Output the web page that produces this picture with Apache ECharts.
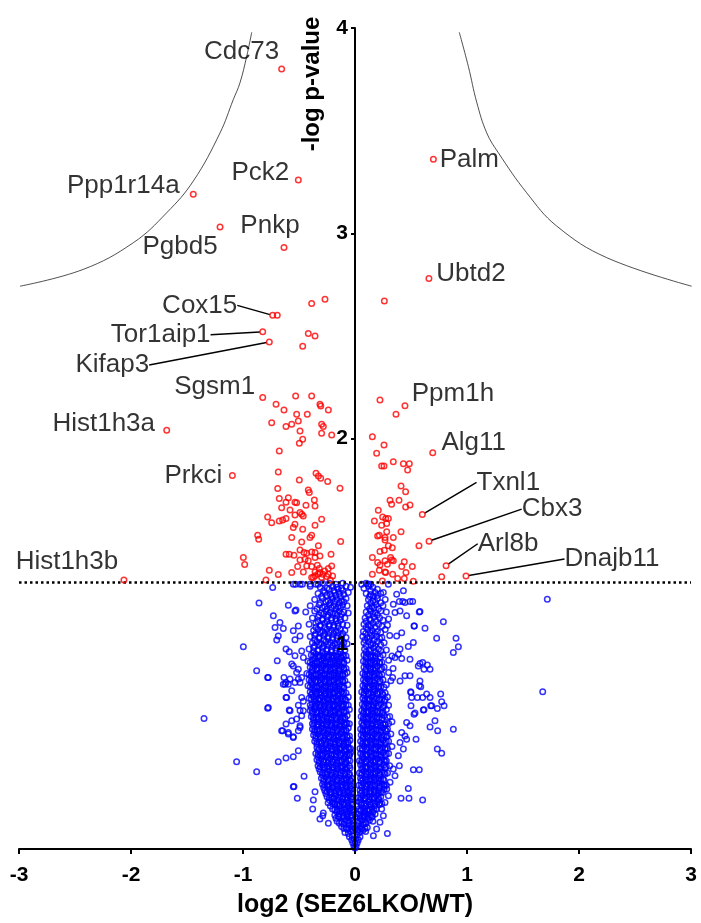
<!DOCTYPE html>
<html><head><meta charset="utf-8">
<script src="https://cdn.jsdelivr.net/npm/echarts@6/dist/echarts.min.js"></script>
<style>html,body{margin:0;padding:0;background:#fff}#c{width:701px;height:923px}</style>
</head><body><div id="c"></div><script>
// ---------- data ----------
const xTickValues = [-3,-2,-1,0,1,2,3];
const yTickValues = [1,2,3,4];
const xTitle = 'log2 (SEZ6LKO/WT)';
const yTitle = '-log p-value';
const threshold = 1.3;

const leftCurve = [[-0.922,3.979],[-0.967,3.862],[-1.027,3.733],[-1.087,3.651],[-1.205,3.489],[-1.444,3.254],[-1.681,3.100],[-1.979,2.954],[-2.426,2.824],[-2.991,2.742]];
const rightCurve = [[0.931,3.979],[1.012,3.813],[1.087,3.638],[1.176,3.489],[1.280,3.392],[1.533,3.197],[1.801,3.035],[2.248,2.881],[3.006,2.742]];

// labelled proteins without leader line
const labeledPlain = [
 [-0.655,3.80,'Cdc73'],[-0.506,3.26,'Pck2'],[-1.444,3.19,'Ppp1r14a'],[-1.205,3.03,'Pgbd5'],
 [-0.634,2.93,'Pnkp'],[0.70,3.36,'Palm'],[0.66,2.78,'Ubtd2'],[-0.824,2.20,'Sgsm1'],
 [-1.681,2.04,'Hist1h3a'],[-1.095,1.82,'Prkci'],[-2.063,1.31,'Hist1h3b'],[0.446,2.16,'Ppm1h'],[0.694,1.93,'Alg11']
];
// labelled proteins with leader line
const labeledLeader = [
 [-0.735,2.60,'Cox15'],[-0.824,2.52,'Tor1aip1'],[-0.765,2.47,'Kifap3'],
 [0.601,1.63,'Txnl1'],[0.661,1.50,'Cbx3'],[0.813,1.38,'Arl8b'],[0.991,1.33,'Dnajb11']
];

const redPoints = [
 [-0.694,2.60],[-0.387,2.658],[-0.268,2.678],[-0.417,2.511],[-0.357,2.499],[-0.467,2.450],
 [-0.53,2.207],[-0.387,2.207],[-0.705,2.167],[-0.634,2.139],[-0.313,2.167],[-0.306,2.158],
 [-0.238,2.139],[-0.521,2.118],[-0.426,2.118],[-0.744,2.077],[-0.616,2.058],[-0.565,2.069],[-0.506,2.085],
 [-0.298,2.069],[-0.283,2.058],[-0.491,2.037],[-0.298,2.025],[-0.208,2.017],[-0.467,1.996],[-0.497,1.977],
 [-0.676,1.939],[-0.685,1.837],[-0.348,1.831],[-0.327,1.817],[-0.306,1.806],[-0.497,1.798],[-0.244,1.790],
 [-0.134,1.758],[-0.690,1.756],[-0.417,1.749],[-0.408,1.737],[-0.676,1.708],[-0.595,1.711],[-0.616,1.690],
 [-0.536,1.690],[-0.521,1.687],[-0.438,1.675],[-0.363,1.700],[-0.357,1.671],[-0.655,1.663],[-0.580,1.652],
 [-0.491,1.639],[-0.476,1.631],[-0.462,1.623],[-0.536,1.627],[-0.780,1.618],[-0.744,1.590],[-0.676,1.598],
 [-0.646,1.603],[-0.616,1.610],[-0.536,1.582],[-0.551,1.566],[-0.467,1.558],[-0.357,1.577],[-0.298,1.607],
 [-0.869,1.529],[-0.860,1.509],[-0.565,1.518],[-0.387,1.529],[-0.402,1.518],[-0.476,1.496],[-0.128,1.498],
 [-0.491,1.457],[-0.455,1.444],[-0.327,1.477],[-0.616,1.436],[-0.587,1.436],[-0.545,1.431],[-0.431,1.441],
 [-0.387,1.447],[-0.357,1.444],[-0.313,1.428],[-0.214,1.436],[-0.997,1.420],[-0.985,1.386],[-0.491,1.408],
 [-0.446,1.412],[-0.417,1.404],[-0.357,1.420],[-0.512,1.376],[-0.431,1.379],[-0.387,1.376],[-0.336,1.383],
 [-0.319,1.367],[-0.238,1.367],[-0.208,1.379],[-0.765,1.358],[-0.685,1.337],[-0.565,1.347],[-0.461,1.350],
 [-0.357,1.350],[-0.313,1.347],[-0.288,1.339],[-0.387,1.323],[-0.357,1.331],[-0.298,1.323],[-0.253,1.328],
 [-0.238,1.339],[-0.795,1.31],[-0.372,1.323],[-0.33,1.34],[-0.27,1.355],[-0.22,1.31],[-0.20,1.33],
 [0.262,2.670],[0.223,2.188],[0.366,2.118],[0.155,2.009],[0.259,1.968],[0.193,1.928],[0.238,1.866],
 [0.259,1.866],[0.342,1.887],[0.432,1.877],[0.485,1.877],[0.470,1.847],[0.411,1.769],[0.452,1.740],
 [0.313,1.699],[0.327,1.680],[0.393,1.699],[0.491,1.676],[0.452,1.666],[0.208,1.650],[0.173,1.598],
 [0.247,1.618],[0.274,1.610],[0.298,1.610],[0.238,1.577],[0.283,1.586],[0.283,1.546],[0.411,1.546],
 [0.202,1.525],[0.217,1.529],[0.268,1.518],[0.342,1.518],[0.571,1.477],[0.268,1.506],[0.298,1.477],
 [0.333,1.468],[0.223,1.449],[0.262,1.456],[0.155,1.420],[0.318,1.420],[0.327,1.408],[0.202,1.396],
 [0.223,1.384],[0.268,1.404],[0.289,1.387],[0.342,1.404],[0.440,1.399],[0.417,1.376],[0.512,1.376],
 [0.217,1.358],[0.268,1.350],[0.274,1.347],[0.455,1.347],[0.155,1.339],[0.336,1.339],[0.774,1.327],
 [0.381,1.318],[0.440,1.318],[0.244,1.306],[0.521,1.305]
];

// dense core of non-significant proteins (first layer)
const blueCoreA = [
 [0,.005],[-.01,.015],[.01,.015],[-.02,.03],[.02,.03],[0,.03],[-.03,.045],[.03,.045],[-.01,.05],[.01,.05],[-.05,.06],[.045,.06],[-.025,.065],[.02,.07],
 [-.09,.08],[-.06,.075],[-.035,.085],[-.015,.09],[.015,.085],[.04,.08],[.07,.09],[.095,.085],
 [-.12,.11],[-.08,.105],[-.05,.115],[-.02,.11],[.02,.115],[.05,.11],[.08,.12],[.11,.105],
 [-.16,.135],[-.12,.13],[-.085,.14],[-.05,.135],[-.02,.14],[.025,.135],[.06,.14],[.095,.13],[.13,.14],[.16,.135],
 [-.18,.165],[-.14,.17],[-.1,.16],[-.065,.17],[-.03,.165],[.03,.17],[.065,.16],[.1,.17],[.14,.165],[.18,.17],
 [-.2,.195],[-.16,.19],[-.12,.2],[-.085,.195],[-.045,.2],[-.02,.19],[.035,.195],[.07,.2],[.11,.19],[.15,.2],[.19,.195],
 [-.24,.225],[-.2,.23],[-.16,.22],[-.12,.23],[-.08,.225],[-.04,.22],[.04,.23],[.08,.22],[.12,.23],[.16,.225],[.2,.23],[.24,.22],
 [-.25,.255],[-.21,.25],[-.17,.26],[-.13,.255],[-.09,.25],[-.05,.26],[-.02,.255],[.03,.25],[.07,.26],[.11,.255],[.15,.25],[.19,.26],[.23,.255],
 [-.27,.285],[-.23,.29],[-.19,.28],[-.15,.29],[-.11,.285],[-.07,.28],[-.035,.29],[.045,.285],[.09,.29],[.13,.28],[.17,.29],[.21,.285],[.26,.29],
 [-.29,.315],[-.25,.31],[-.21,.32],[-.17,.315],[-.13,.31],[-.09,.32],[-.05,.315],[.035,.31],[.075,.32],[.115,.315],[.155,.31],[.2,.32],[.24,.315],[.28,.31],
 [-.3,.345],[-.26,.35],[-.22,.34],[-.18,.35],[-.14,.345],[-.1,.34],[-.06,.35],[-.03,.345],[.05,.345],[.09,.35],[.13,.34],[.17,.35],[.21,.345],[.25,.34],
 [-.31,.375],[-.27,.37],[-.23,.38],[-.19,.375],[-.15,.37],[-.11,.38],[-.07,.375],[.04,.37],[.08,.38],[.12,.375],[.16,.37],[.2,.38],[.24,.375],[.29,.37],
 [-.33,.405],[-.29,.41],[-.25,.4],[-.21,.41],[-.17,.405],[-.13,.4],[-.09,.41],[-.05,.405],[.05,.41],[.09,.4],[.13,.41],[.17,.405],[.21,.4],[.26,.41],[.31,.405],
 [-.34,.435],[-.3,.44],[-.26,.43],[-.22,.44],[-.18,.435],[-.14,.43],[-.1,.44],[-.06,.435],[.04,.43],[.08,.44],[.12,.435],[.16,.43],[.2,.44],[.24,.435],[.28,.43],
 [-.35,.465],[-.31,.46],[-.27,.47],[-.23,.465],[-.19,.46],[-.15,.47],[-.11,.465],[-.07,.46],[-.04,.47],[.05,.465],[.09,.46],[.13,.47],[.17,.465],[.21,.46],[.25,.47],[.3,.465],
 [-.34,.495],[-.3,.5],[-.26,.49],[-.22,.5],[-.18,.495],[-.14,.49],[-.1,.5],[-.06,.495],[.045,.49],[.085,.5],[.125,.495],[.165,.49],[.205,.5],[.245,.495],[.29,.49],[.33,.5],
 [-.36,.525],[-.32,.52],[-.28,.53],[-.24,.525],[-.2,.52],[-.16,.53],[-.12,.525],[-.08,.52],[-.045,.53],[.05,.525],[.09,.52],[.13,.53],[.17,.525],[.21,.52],[.25,.53],[.3,.525],
 [-.37,.555],[-.33,.56],[-.29,.55],[-.25,.56],[-.21,.555],[-.17,.55],[-.13,.56],[-.09,.555],[-.05,.55],[.055,.555],[.095,.56],[.135,.55],[.175,.56],[.215,.555],[.26,.55],[.32,.56],
 [-.38,.585],[-.34,.58],[-.3,.59],[-.26,.585],[-.22,.58],[-.18,.59],[-.14,.585],[-.1,.58],[-.06,.59],[.05,.585],[.09,.58],[.13,.59],[.17,.585],[.21,.58],[.25,.59],[.29,.585],
 [-.36,.615],[-.32,.62],[-.28,.61],[-.24,.62],[-.2,.615],[-.16,.61],[-.12,.62],[-.08,.615],[-.05,.61],[.06,.615],[.1,.62],[.14,.61],[.18,.62],[.22,.615],[.27,.61],[.33,.62],
 [-.39,.645],[-.35,.64],[-.31,.65],[-.27,.645],[-.23,.64],[-.19,.65],[-.15,.645],[-.11,.64],[-.07,.65],[.055,.645],[.095,.64],[.135,.65],[.175,.645],[.215,.64],[.26,.65],[.31,.645],
 [-.4,.675],[-.36,.68],[-.32,.67],[-.28,.68],[-.24,.675],[-.2,.67],[-.16,.68],[-.12,.675],[-.08,.67],[-.05,.68],[.06,.675],[.1,.67],[.14,.68],[.18,.675],[.22,.67],[.28,.68],
 [-.38,.705],[-.34,.71],[-.3,.7],[-.26,.71],[-.22,.705],[-.18,.7],[-.14,.71],[-.1,.705],[-.06,.7],[.065,.705],[.105,.71],[.145,.7],[.185,.71],[.23,.705],[.3,.7],
 [-.41,.735],[-.37,.74],[-.33,.73],[-.29,.74],[-.25,.735],[-.21,.73],[-.17,.74],[-.13,.735],[-.09,.73],[-.06,.74],[.07,.735],[.11,.73],[.15,.74],[.19,.735],[.24,.73],[.29,.74],
 [-.4,.765],[-.36,.77],[-.32,.76],[-.28,.77],[-.24,.765],[-.2,.76],[-.16,.77],[-.12,.765],[-.08,.76],[.06,.765],[.1,.77],[.14,.76],[.18,.77],[.22,.765],[.27,.76],
 [-.42,.795],[-.38,.8],[-.34,.79],[-.3,.8],[-.26,.795],[-.22,.79],[-.18,.8],[-.14,.795],[-.1,.79],[-.065,.8],[.07,.795],[.11,.79],[.15,.8],[.19,.795],[.23,.79],[.28,.8],
 [-.41,.825],[-.37,.83],[-.33,.82],[-.29,.83],[-.25,.825],[-.21,.82],[-.17,.83],[-.13,.825],[-.09,.82],[.075,.825],[.115,.83],[.155,.82],[.2,.83],[.25,.825],[.32,.82],
 [-.43,.855],[-.39,.86],[-.35,.85],[-.31,.86],[-.27,.855],[-.23,.85],[-.19,.86],[-.15,.855],[-.11,.85],[-.07,.86],[.07,.855],[.11,.85],[.15,.86],[.19,.855],[.24,.85],[.3,.86],
 [-.4,.885],[-.36,.89],[-.32,.88],[-.28,.89],[-.24,.885],[-.2,.88],[-.16,.89],[-.12,.885],[-.08,.88],[.08,.885],[.12,.89],[.16,.88],[.2,.89],[.26,.885],[.34,.88],
 [-.42,.915],[-.38,.92],[-.34,.91],[-.3,.92],[-.26,.915],[-.22,.91],[-.18,.92],[-.14,.915],[-.1,.91],[-.07,.92],[.075,.915],[.115,.91],[.155,.92],[.195,.915],[.24,.91],[.3,.92],
 [-.39,.945],[-.35,.95],[-.31,.94],[-.27,.95],[-.23,.945],[-.19,.94],[-.15,.95],[-.11,.945],[-.08,.94],[.08,.945],[.12,.95],[.16,.94],[.2,.95],[.25,.945],[.33,.94],
 [-.41,.975],[-.37,.98],[-.33,.97],[-.29,.98],[-.25,.975],[-.21,.97],[-.17,.98],[-.13,.975],[-.09,.97],[.085,.975],[.125,.97],[.165,.98],[.21,.975],[.28,.97],
 [-.38,1.005],[-.34,1.01],[-.3,1],[-.26,1.01],[-.22,1.005],[-.18,1],[-.14,1.01],[-.1,1.005],[-.07,1],[.08,1.005],[.12,1.01],[.16,1],[.2,1.01],[.26,1.005],
 [-.4,1.035],[-.36,1.04],[-.32,1.03],[-.28,1.04],[-.24,1.035],[-.2,1.03],[-.16,1.04],[-.12,1.035],[-.08,1.03],[.07,1.035],[.11,1.03],[.15,1.04],[.19,1.035],[.24,1.03],[.31,1.04],
 [-.37,1.065],[-.33,1.07],[-.29,1.06],[-.25,1.07],[-.21,1.065],[-.17,1.06],[-.13,1.07],[-.09,1.065],[.075,1.06],[.115,1.07],[.155,1.065],[.2,1.06],[.27,1.07],
 [-.41,1.095],[-.35,1.1],[-.31,1.09],[-.27,1.1],[-.23,1.095],[-.19,1.09],[-.15,1.1],[-.11,1.095],[-.07,1.09],[.08,1.095],[.12,1.09],[.16,1.1],[.21,1.095],[.29,1.09],
 [-.38,1.125],[-.33,1.13],[-.29,1.12],[-.25,1.13],[-.21,1.125],[-.17,1.12],[-.13,1.13],[-.09,1.125],[.09,1.125],[.13,1.12],[.17,1.13],[.22,1.125],[.3,1.12],
 [-.44,1.155],[-.36,1.16],[-.3,1.15],[-.26,1.16],[-.22,1.155],[-.18,1.15],[-.14,1.16],[-.1,1.155],[-.06,1.15],[.1,1.155],[.14,1.16],[.18,1.15],[.23,1.16],[.28,1.155],
 [-.4,1.185],[-.32,1.19],[-.27,1.18],[-.23,1.19],[-.19,1.185],[-.15,1.18],[-.11,1.19],[-.07,1.185],[.11,1.185],[.15,1.18],[.19,1.19],[.25,1.185],
 [-.36,1.215],[-.29,1.22],[-.24,1.21],[-.2,1.22],[-.16,1.215],[-.12,1.21],[-.08,1.22],[.12,1.215],[.16,1.21],[.2,1.22],[.27,1.215],
 [-.33,1.245],[-.27,1.25],[-.22,1.24],[-.18,1.25],[-.14,1.245],[-.1,1.24],[-.06,1.25],[.1,1.245],[.14,1.24],[.18,1.25],[.23,1.245],
 [-.4,1.28],[-.31,1.275],[-.25,1.27],[-.2,1.28],[-.16,1.275],[-.12,1.27],[-.08,1.28],[-.04,1.275],[.08,1.27],[.12,1.28],[.16,1.275],
 [-.53,1.29],[-.49,1.29],[-.47,1.29],[-.35,1.29],[-.33,1.29],[-.29,1.295],[-.23,1.295],[-.17,1.29],[-.11,1.295],[.06,1.29],[.1,1.295],[.14,1.29]
];

// dense core (second, in-between layer)
const blueCoreB = [
 [-.1,.1],[-.065,.095],[-.03,.1],[0,.1],[.03,.095],[.06,.1],[.09,.1],
 [-.17,.15],[-.14,.155],[-.105,.15],[-.07,.155],[-.035,.15],[.01,.155],[.045,.15],[.08,.155],[.115,.15],[.15,.155],
 [-.16,.18],[-.12,.185],[-.08,.18],[-.045,.185],[-.01,.18],[.05,.185],[.085,.18],[.12,.185],[.16,.18],
 [-.22,.21],[-.18,.215],[-.14,.21],[-.1,.215],[-.06,.21],[-.025,.215],[.02,.21],[.055,.215],[.095,.21],[.135,.215],[.175,.21],[.215,.215],
 [-.23,.24],[-.19,.245],[-.15,.24],[-.11,.245],[-.07,.24],[-.035,.245],[.05,.24],[.09,.245],[.13,.24],[.17,.245],[.21,.24],
 [-.26,.27],[-.22,.275],[-.18,.27],[-.14,.275],[-.1,.27],[-.06,.275],[-.03,.27],[.05,.27],[.09,.275],[.13,.27],[.17,.275],[.21,.27],[.245,.275],
 [-.28,.3],[-.24,.305],[-.2,.3],[-.16,.305],[-.12,.3],[-.08,.305],[-.045,.3],[.06,.3],[.1,.305],[.14,.3],[.18,.305],[.22,.3],[.26,.305],
 [-.28,.33],[-.24,.335],[-.2,.33],[-.16,.335],[-.12,.33],[-.08,.335],[-.04,.33],[.055,.33],[.095,.335],[.135,.33],[.175,.335],[.22,.33],[.26,.335],
 [-.29,.36],[-.25,.365],[-.21,.36],[-.17,.365],[-.13,.36],[-.09,.365],[-.05,.36],[.06,.36],[.1,.365],[.14,.36],[.18,.365],[.22,.36],[.27,.365],
 [-.32,.39],[-.28,.395],[-.24,.39],[-.2,.395],[-.16,.39],[-.12,.395],[-.08,.39],[-.045,.395],[.06,.39],[.1,.395],[.14,.39],[.18,.395],[.22,.39],[.27,.395],
 [-.32,.42],[-.28,.425],[-.24,.42],[-.2,.425],[-.16,.42],[-.12,.425],[-.08,.42],[.06,.42],[.1,.425],[.14,.42],[.18,.425],[.22,.42],[.27,.425],
 [-.33,.45],[-.29,.455],[-.25,.45],[-.21,.455],[-.17,.45],[-.13,.455],[-.09,.45],[-.05,.455],[.065,.45],[.105,.455],[.145,.45],[.185,.455],[.23,.45],[.27,.455],
 [-.33,.48],[-.29,.485],[-.25,.48],[-.21,.485],[-.17,.48],[-.13,.485],[-.09,.48],[-.05,.485],[.065,.48],[.105,.485],[.145,.48],[.185,.485],[.225,.48],[.27,.485],
 [-.34,.51],[-.3,.515],[-.26,.51],[-.22,.515],[-.18,.51],[-.14,.515],[-.1,.51],[-.065,.515],[.065,.51],[.105,.515],[.145,.51],[.185,.515],[.23,.51],[.27,.515],
 [-.35,.54],[-.31,.545],[-.27,.54],[-.23,.545],[-.19,.54],[-.15,.545],[-.11,.54],[-.07,.545],[.07,.54],[.11,.545],[.15,.54],[.19,.545],[.235,.54],[.28,.545],
 [-.36,.57],[-.32,.575],[-.28,.57],[-.24,.575],[-.2,.57],[-.16,.575],[-.12,.57],[-.08,.575],[.07,.57],[.11,.575],[.15,.57],[.19,.575],[.23,.57],[.28,.575],
 [-.37,.6],[-.33,.605],[-.29,.6],[-.25,.605],[-.21,.6],[-.17,.605],[-.13,.6],[-.09,.605],[.07,.6],[.11,.605],[.15,.6],[.19,.605],[.23,.6],[.27,.605],
 [-.37,.63],[-.33,.635],[-.29,.63],[-.25,.635],[-.21,.63],[-.17,.635],[-.13,.63],[-.09,.635],[.075,.63],[.115,.635],[.155,.63],[.195,.635],[.24,.63],
 [-.38,.66],[-.34,.665],[-.3,.66],[-.26,.665],[-.22,.66],[-.18,.665],[-.14,.66],[-.1,.665],[.075,.66],[.115,.665],[.155,.66],[.195,.665],[.24,.66],
 [-.39,.69],[-.35,.695],[-.31,.69],[-.27,.695],[-.23,.69],[-.19,.695],[-.15,.69],[-.11,.695],[.08,.69],[.12,.695],[.16,.69],[.2,.695],[.25,.69],
 [-.36,.72],[-.32,.725],[-.28,.72],[-.24,.725],[-.2,.72],[-.16,.725],[-.12,.72],[-.08,.725],[.085,.72],[.125,.725],[.165,.72],[.21,.725],[.26,.72],
 [-.39,.75],[-.35,.755],[-.31,.75],[-.27,.755],[-.23,.75],[-.19,.755],[-.15,.75],[-.11,.755],[.08,.75],[.12,.755],[.16,.75],[.2,.755],[.25,.75],
 [-.38,.78],[-.34,.785],[-.3,.78],[-.26,.785],[-.22,.78],[-.18,.785],[-.14,.78],[-.1,.785],[.085,.78],[.125,.785],[.165,.78],[.21,.785],
 [-.39,.81],[-.35,.815],[-.31,.81],[-.27,.815],[-.23,.81],[-.19,.815],[-.15,.81],[-.11,.815],[.09,.81],[.13,.815],[.17,.81],[.22,.815],
 [-.39,.84],[-.35,.845],[-.31,.84],[-.27,.845],[-.23,.84],[-.19,.845],[-.15,.84],[-.11,.845],[.09,.84],[.13,.845],[.17,.84],[.22,.845],
 [-.38,.87],[-.34,.875],[-.3,.87],[-.26,.875],[-.22,.87],[-.18,.875],[-.14,.87],[-.1,.875],[.095,.87],[.135,.875],[.175,.87],[.23,.875],
 [-.38,.9],[-.34,.905],[-.3,.9],[-.26,.905],[-.22,.9],[-.18,.905],[-.14,.9],[-.1,.905],[.1,.9],[.14,.905],[.18,.9],[.22,.905],
 [-.36,.93],[-.32,.935],[-.28,.93],[-.24,.935],[-.2,.93],[-.16,.935],[-.12,.93],[.1,.93],[.14,.935],[.18,.93],[.225,.935],
 [-.37,.96],[-.33,.965],[-.29,.96],[-.25,.965],[-.21,.96],[-.17,.965],[-.13,.96],[.1,.96],[.14,.965],[.18,.96],[.23,.965],
 [-.36,.99],[-.32,.995],[-.28,.99],[-.24,.995],[-.2,.99],[-.16,.995],[-.12,.99],[.1,.99],[.14,.995],[.18,.99],[.23,.995],
 [-.36,1.02],[-.32,1.025],[-.28,1.02],[-.24,1.025],[-.2,1.02],[-.16,1.025],[-.12,1.02],[.09,1.02],[.13,1.025],[.17,1.02],[.22,1.025],
 [-.35,1.05],[-.31,1.055],[-.27,1.05],[-.23,1.055],[-.19,1.05],[-.15,1.055],[-.11,1.05],[.095,1.05],[.135,1.055],[.175,1.05],[.23,1.055],
 [-.35,1.08],[-.31,1.085],[-.27,1.08],[-.23,1.085],[-.19,1.08],[-.15,1.085],[.1,1.08],[.14,1.085],[.18,1.08],[.24,1.085],
 [-.33,1.11],[-.29,1.115],[-.25,1.11],[-.21,1.115],[-.17,1.11],[-.13,1.115],[.1,1.11],[.14,1.115],[.19,1.11],[.25,1.115],
 [-.32,1.14],[-.28,1.145],[-.24,1.14],[-.2,1.145],[-.16,1.14],[-.12,1.145],[.12,1.14],[.16,1.145],[.2,1.14],
 [-.34,1.17],[-.29,1.175],[-.25,1.17],[-.21,1.175],[-.17,1.17],[-.13,1.175],[.13,1.17],[.17,1.175],[.21,1.17],
 [-.31,1.2],[-.26,1.205],[-.22,1.2],[-.18,1.205],[-.14,1.2],[-.1,1.205],[.14,1.2],[.18,1.205],[.23,1.2],
 [-.3,1.23],[-.25,1.235],[-.21,1.23],[-.17,1.235],[-.13,1.23],[.13,1.23],[.2,1.235],
 [-.28,1.26],[-.23,1.265],[-.19,1.26],[-.15,1.265],[-.11,1.26],[.14,1.26],[.2,1.265]
];

// dense core (third layer, lower part where the cloud is solid)
const blueCoreC = [
 [-.14,.125],[-.1,.12],[-.06,.125],[-.03,.12],[.035,.125],[.07,.12],[.1,.125],
 [-.15,.16],[-.11,.158],[-.075,.162],[-.04,.158],[.045,.16],[.085,.162],[.12,.158],[.155,.16],
 [-.18,.19],[-.14,.188],[-.1,.192],[-.06,.188],[-.03,.19],[.05,.19],[.09,.188],[.13,.192],[.17,.19],
 [-.2,.22],[-.18,.222],[-.14,.218],[-.1,.22],[-.06,.222],[-.02,.218],[.06,.22],[.1,.222],[.14,.218],[.18,.22],[.22,.222],
 [-.23,.25],[-.19,.248],[-.15,.252],[-.11,.248],[-.07,.25],[-.035,.252],[.05,.25],[.09,.248],[.13,.252],[.17,.25],[.21,.248],
 [-.25,.28],[-.21,.278],[-.17,.282],[-.13,.278],[-.09,.28],[-.05,.282],[.065,.28],[.105,.278],[.145,.282],[.185,.28],[.23,.278],
 [-.27,.31],[-.23,.308],[-.19,.312],[-.15,.308],[-.11,.31],[-.07,.312],[-.035,.308],[.055,.31],[.095,.308],[.135,.312],[.175,.31],[.22,.308],[.26,.312],
 [-.28,.34],[-.24,.338],[-.2,.342],[-.16,.338],[-.12,.34],[-.08,.342],[-.045,.338],[.07,.34],[.11,.338],[.15,.342],[.19,.34],[.23,.338],
 [-.29,.37],[-.25,.368],[-.21,.372],[-.17,.368],[-.13,.37],[-.09,.372],[-.05,.368],[.06,.37],[.1,.368],[.14,.372],[.18,.37],[.22,.368],[.26,.372],
 [-.31,.4],[-.27,.398],[-.23,.402],[-.19,.398],[-.15,.4],[-.11,.402],[-.07,.398],[.07,.4],[.11,.398],[.15,.402],[.19,.4],[.23,.398],[.28,.402],
 [-.32,.43],[-.28,.428],[-.24,.432],[-.2,.428],[-.16,.43],[-.12,.432],[-.08,.428],[-.045,.43],[.06,.43],[.1,.428],[.14,.432],[.18,.43],[.22,.428],[.26,.432],
 [-.33,.46],[-.29,.458],[-.25,.462],[-.21,.458],[-.17,.46],[-.13,.462],[-.09,.458],[-.05,.46],[.07,.46],[.11,.458],[.15,.462],[.19,.46],[.23,.458],[.28,.462],
 [-.32,.49],[-.28,.488],[-.24,.492],[-.2,.488],[-.16,.49],[-.12,.492],[-.08,.488],[-.04,.49],[.065,.49],[.105,.488],[.145,.492],[.185,.49],[.225,.488],[.27,.492],
 [-.34,.52],[-.3,.518],[-.26,.522],[-.22,.518],[-.18,.52],[-.14,.522],[-.1,.518],[-.06,.52],[.07,.52],[.11,.518],[.15,.522],[.19,.52],[.23,.518],[.28,.522],
 [-.35,.55],[-.31,.548],[-.27,.552],[-.23,.548],[-.19,.55],[-.15,.552],[-.11,.548],[-.07,.55],[.075,.55],[.115,.548],[.155,.552],[.2,.55],[.24,.548],[.29,.552],
 [-.36,.58],[-.32,.578],[-.28,.582],[-.24,.578],[-.2,.58],[-.16,.582],[-.12,.578],[-.08,.58],[.07,.58],[.11,.578],[.15,.582],[.19,.58],[.23,.578],[.27,.582],
 [-.38,.61],[-.34,.608],[-.3,.612],[-.26,.608],[-.22,.61],[-.18,.612],[-.14,.608],[-.1,.61],[-.07,.612],[.08,.61],[.12,.608],[.16,.612],[.2,.61],[.25,.608],[.3,.612],
 [-.37,.64],[-.33,.638],[-.29,.642],[-.25,.638],[-.21,.64],[-.17,.642],[-.13,.638],[-.09,.64],[.075,.64],[.115,.638],[.155,.642],[.195,.64],[.24,.638],[.29,.642],
 [-.38,.67],[-.34,.668],[-.3,.672],[-.26,.668],[-.22,.67],[-.18,.672],[-.14,.668],[-.1,.67],[.08,.67],[.12,.668],[.16,.672],[.2,.67],[.25,.668],
 [-.4,.7],[-.36,.698],[-.32,.702],[-.28,.698],[-.24,.7],[-.2,.702],[-.16,.698],[-.12,.7],[-.08,.702],[.085,.7],[.125,.698],[.165,.702],[.21,.7],[.26,.698],
 [-.39,.73],[-.35,.728],[-.31,.732],[-.27,.728],[-.23,.73],[-.19,.732],[-.15,.728],[-.11,.73],[.09,.73],[.13,.728],[.17,.732],[.22,.73],[.27,.728],
 [-.38,.76],[-.34,.758],[-.3,.762],[-.26,.758],[-.22,.76],[-.18,.762],[-.14,.758],[-.1,.76],[.08,.76],[.12,.758],[.16,.762],[.2,.76],[.245,.758],
 [-.4,.79],[-.36,.788],[-.32,.792],[-.28,.788],[-.24,.79],[-.2,.792],[-.16,.788],[-.12,.79],[.09,.79],[.13,.788],[.17,.792],[.21,.79],[.26,.788],
 [-.39,.82],[-.35,.818],[-.31,.822],[-.27,.818],[-.23,.82],[-.19,.822],[-.15,.818],[-.11,.82],[.095,.82],[.135,.818],[.175,.822],[.225,.82],
 [-.41,.85],[-.37,.848],[-.33,.852],[-.29,.848],[-.25,.85],[-.21,.852],[-.17,.848],[-.13,.85],[-.09,.852],[.09,.85],[.13,.848],[.17,.852],[.21,.85],
 [-.38,.88],[-.34,.878],[-.3,.882],[-.26,.878],[-.22,.88],[-.18,.882],[-.14,.878],[-.1,.88],[.1,.88],[.14,.878],[.18,.882],[.24,.88],
 [-.4,.91],[-.36,.908],[-.32,.912],[-.28,.908],[-.24,.91],[-.2,.912],[-.16,.908],[-.12,.91],[.095,.91],[.135,.908],[.175,.912],[.22,.91],
 [-.37,.94],[-.33,.938],[-.29,.942],[-.25,.938],[-.21,.94],[-.17,.942],[-.13,.938],[-.1,.94],[.1,.94],[.14,.938],[.18,.942]
];

// scattered non-significant proteins
const blueScatter = [
 [1.717,1.217],[1.676,0.766],[0.789,1.107],[0.729,1.027],[0.902,1.027],[0.923,0.985],[0.878,0.957],[0.625,1.076],[0.580,1.157],
 [0.527,1.087],[0.417,1.054],[0.372,1.038],[0.521,1.006],[0.476,0.986],[0.580,0.904],[0.646,0.897],[0.670,0.876],[0.580,0.819],
 [0.574,0.795],[0.497,0.766],[0.506,0.738],[0.557,0.738],[0.640,0.755],[0.670,0.738],[0.765,0.755],[0.774,0.717],[0.795,0.698],
 [0.735,0.685],[0.676,0.698],[0.610,0.677],[0.527,0.657],[0.878,0.584],[0.714,0.625],[0.670,0.595],[0.738,0.576],[0.545,0.535],
 [0.735,0.487],[0.774,0.467],[0.521,0.386],[0.574,0.386],[0.476,0.295],[0.411,0.247],[0.482,0.247],[0.604,0.239],[0.289,0.076],
 [0.491,1.206],[0.515,1.206],[0.396,1.206],[0.426,1.206],[0.402,0.974],[0.387,0.949],[0.357,0.933],[0.417,0.928],[0.491,0.925],
 [0.565,0.892],[0.604,0.909],[0.616,0.876],[0.446,0.844],[0.491,0.844],[0.402,0.819],[0.336,0.835],[0.587,0.791],[0.500,0.762],
 [0.604,0.738],[0.685,0.698],[0.616,0.678],[0.536,0.662],[0.500,0.698],[0.461,0.616],[0.491,0.600],[0.417,0.568],[0.446,0.551],
 [0.402,0.519],[0.432,0.487],[0.461,0.535],[0.387,0.454],[0.396,0.406],[0.342,0.390],[0.357,0.357],[0.313,0.325],[0.283,0.292],
 [0.298,0.260],[0.268,0.227],[0.238,0.195],[0.253,0.162],[0.223,0.130],[0.193,0.097],[0.164,0.065],[0.119,1.290],[0.298,1.290],
 [0.164,1.233],[0.253,1.250],[0.372,1.241],[0.432,1.258],[0.446,1.201],[0.342,1.193],[0.402,1.160],[0.461,1.136],[0.357,1.152],
 [0.574,1.155],[0.530,1.087],
 [-1.348,0.636],[-0.997,0.985],[-0.857,1.198],[-0.878,0.868],[-0.780,0.835],[-1.057,0.425],[-0.878,0.376],[-0.780,0.686],
 [-0.694,0.917],[-0.729,1.136],[-0.670,1.103],[-0.714,1.079],[-0.640,1.074],[-0.685,1.038],[-0.699,1.018],[-0.595,1.188],
 [-0.735,1.274],[-0.527,1.164],[-0.616,0.974],[-0.587,0.961],[-0.536,0.941],[-0.551,0.892],[-0.506,0.876],[-0.634,0.835],
 [-0.616,0.811],[-0.640,0.803],[-0.580,0.828],[-0.616,0.738],[-0.587,0.677],[-0.655,0.576],[-0.595,0.568],[-0.616,0.609],
 [-0.551,0.547],[-0.565,0.625],[-0.506,0.576],[-0.491,0.600],[-0.506,0.479],[-0.551,0.449],[-0.616,0.443],[-0.685,0.425],
 [-0.455,0.354],[-0.545,0.305],[-0.515,0.247],[-0.372,0.239],[-0.378,0.195],[-0.288,0.162],[-0.238,0.125],[-0.506,0.700],
 [-0.491,0.675],[-0.461,0.72],[-0.491,0.811],[-0.476,0.835],[-0.536,0.811],[-0.536,1.160],[-0.551,1.063],[-0.536,1.019],
 [-0.506,1.087],[-0.491,1.038],[-0.476,0.965],[-0.461,0.933],[-0.565,0.901],[-0.521,0.860],[-0.774,0.835],[-0.625,0.803],
 [-0.595,0.803],[-0.506,0.828],[-0.565,0.771],[-0.610,0.738],[-0.580,0.673],[-0.774,0.690],[-0.476,0.738],[-0.461,0.673],
 [-0.476,0.649],[-0.646,0.576],[-0.595,0.560],[-0.551,0.543],[-0.521,0.633],[-0.491,0.592],[-0.551,0.303],[-0.357,0.279],
 [-0.313,0.146],[-0.283,0.175],[-0.55,1.29],[-0.4,1.29]
];

// ---------- styling (pixel offsets of the gene labels) ----------
const labelOffsets = {
 Cdc73:[-40,-17], Pck2:[-38,-7], Ppp1r14a:[-70,-8], Pgbd5:[-40,20], Pnkp:[-14,-22], Palm:[36,0], Ubtd2:[42,-5],
 Sgsm1:[-48,-11], Hist1h3a:[-63,-6], Prkci:[-39,0], Hist1h3b:[-57,-18], Ppm1h:[48,-12], Alg11:[41,-10],
 Cox15:[-73,-10], Tor1aip1:[-102,3], Kifap3:[-157,23], Txnl1:[86,-32], Cbx3:[123,-32], Arl8b:[62,-22], Dnajb11:[146,-17]
};

const FONT = '"Liberation Sans", Arial, Helvetica, sans-serif';
const RED = '#ff0000', BLUE = '#0000ff';
const SYM = 5.5;
const GRID = {left:19, right:10, top:28, bottom:73};
const PLOT_W = 701 - GRID.left - GRID.right;

function hollow(color){ return {color:'rgba(0,0,0,0)', borderColor:color, borderWidth:1.5}; }
function labeledSeries(list, withLine){
  return {
    type:'scatter', symbol:'circle', symbolSize:SYM, itemStyle:hollow(RED), silent:true, z:5,
    data: list.map(d => ({value:[d[0], d[1]], name:d[2]})),
    label:{show:true, position:'inside', formatter:'{b}', color:'#000', fontFamily:FONT, fontSize:26,
           padding: withLine ? [0,5] : 0},
    labelLine: withLine ? {show:true, lineStyle:{color:'#000', width:1.5}} : {show:false},
    labelLayout: p => { const o = labelOffsets[list[p.dataIndex][2]]; return {dx:o[0], dy:o[1]}; }
  };
}
function blueSeries(data){
  return {type:'scatter', symbol:'circle', symbolSize:SYM, itemStyle:hollow(BLUE), data:data,
          large:false, silent:true, z:2};
}

const blueMain = blueSeries(blueCoreA);
blueMain.markLine = {silent:true, symbol:'none', label:{show:false},
  lineStyle:{color:'#000', width:2.5, type:[2.5,3]}, data:[{yAxis:threshold}]};

const chart = echarts.init(document.getElementById('c'), null, {renderer:'canvas'});
chart.setOption({
  animation:false,
  backgroundColor:'#fff',
  grid:Object.assign({containLabel:false}, GRID),
  xAxis:{
    type:'value', min:xTickValues[0], max:xTickValues[xTickValues.length-1], interval:1,
    name:xTitle, nameLocation:'middle', nameGap:44,
    nameTextStyle:{fontFamily:FONT, fontWeight:'bold', fontSize:25, color:'#000'},
    axisLine:{lineStyle:{color:'#000', width:2}},
    axisTick:{show:true, length:5, lineStyle:{color:'#000', width:2}},
    axisLabel:{fontFamily:FONT, fontWeight:'bold', fontSize:21, color:'#000', margin:16},
    splitLine:{show:false}
  },
  yAxis:{
    type:'value', min:0, max:yTickValues[yTickValues.length-1], interval:1, z:10,
    position:'left', offset:-PLOT_W/2,
    axisLine:{onZero:false, lineStyle:{color:'#000', width:2}},
    axisTick:{show:true, length:4, lineStyle:{color:'#000', width:2}},
    axisLabel:{fontFamily:FONT, fontWeight:'bold', fontSize:21, color:'#000', margin:7,
               formatter: v => yTickValues.includes(v) ? String(v) : ''},
    splitLine:{show:false}
  },
  graphic:[{
    type:'text', x:312, y:84, rotation:Math.PI/2, silent:true,
    style:{text:yTitle, fontFamily:FONT, fontWeight:'bold', fontSize:24, fill:'#000',
           textAlign:'center', textVerticalAlign:'middle'}
  }],
  series:[
    {type:'line', data:leftCurve, smooth:0.4, showSymbol:false, silent:true,
     lineStyle:{color:'#222', width:0.8}, z:1},
    {type:'line', data:rightCurve, smooth:0.4, showSymbol:false, silent:true,
     lineStyle:{color:'#222', width:0.8}, z:1},
    blueMain,
    blueSeries(blueCoreB),
    blueSeries(blueCoreC),
    blueSeries(blueScatter),
    {type:'scatter', symbol:'circle', symbolSize:SYM, itemStyle:hollow(RED), data:redPoints,
     large:false, silent:true, z:3},
    labeledSeries(labeledPlain, false),
    labeledSeries(labeledLeader, true)
  ]
});
</script></body></html>
